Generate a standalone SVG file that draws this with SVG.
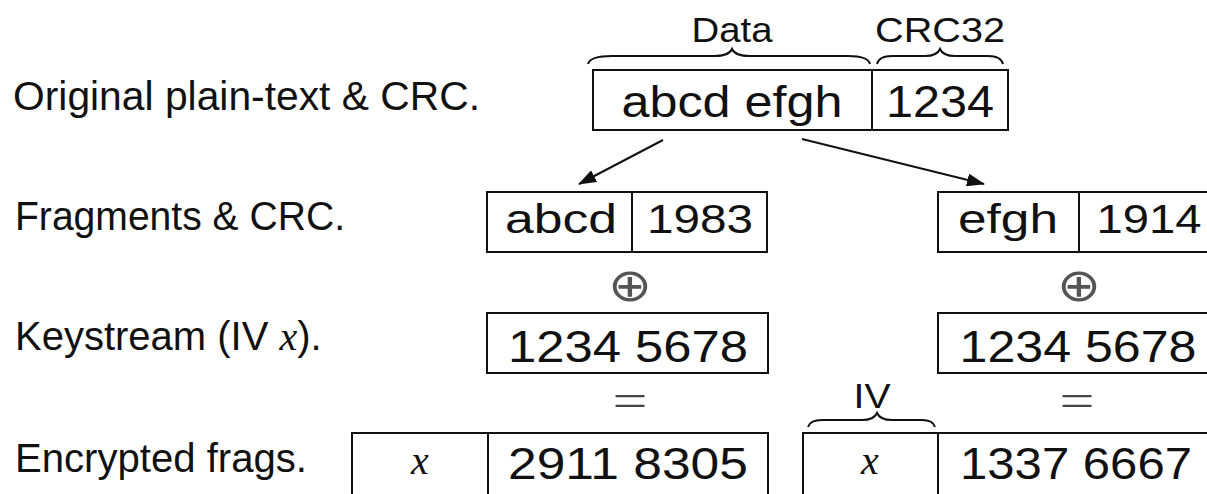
<svg xmlns="http://www.w3.org/2000/svg" width="1207" height="494" viewBox="0 0 1207 494">
<style>
.lbl{font-family:"Liberation Sans",Arial,sans-serif;font-size:40px;fill:#111}
.bt{font-family:"Liberation Sans",Arial,sans-serif;font-size:44px;fill:#111;text-anchor:middle}
.bt2{font-family:"Liberation Sans",Arial,sans-serif;font-size:40px;fill:#111;text-anchor:middle}
.hd{font-family:"Liberation Sans",Arial,sans-serif;font-size:35px;fill:#111;text-anchor:middle}
.mx{font-family:"Liberation Serif","Times New Roman",serif;font-style:italic;font-size:40px;fill:#111}
.op{font-family:"DejaVu Sans",sans-serif;font-size:46px;fill:#555;text-anchor:middle}
.eq{font-family:"Liberation Serif",serif;font-size:46px;fill:#444;text-anchor:middle}
.box{fill:#fff;stroke:#111;stroke-width:2}
.div{stroke:#111;stroke-width:2}
.br{fill:none;stroke:#111;stroke-width:2}
.arr{stroke:#111;stroke-width:2;fill:none}
</style>
<defs>
<marker id="ah" markerWidth="18" markerHeight="13" refX="17" refY="6.5" orient="auto" markerUnits="userSpaceOnUse" viewBox="0 0 18 13">
<path d="M0,0 L18,6.5 L0,13 z" fill="#111"/>
</marker>
</defs>
<rect width="1207" height="494" fill="#fff"/>

<g id="labels">
<text class="lbl" x="13" y="110" textLength="467" lengthAdjust="spacingAndGlyphs">Original plain-text &amp; CRC.</text>
<text class="lbl" x="15" y="230" textLength="330" lengthAdjust="spacingAndGlyphs">Fragments &amp; CRC.</text>
<text class="lbl" x="15" y="350">Keystream (IV <tspan class="mx">x</tspan>).</text>
<text class="lbl" x="15" y="472" textLength="292" lengthAdjust="spacingAndGlyphs">Encrypted frags.</text>
</g>

<g id="original">
<rect class="box" x="593" y="70" width="415" height="60"/>
<line class="div" x1="872" y1="70" x2="872" y2="130"/>
<text class="bt" x="732" y="117" textLength="221" lengthAdjust="spacingAndGlyphs">abcd efgh</text>
<text class="bt" x="940" y="117" textLength="108" lengthAdjust="spacingAndGlyphs">1234</text>
<path class="br" d="M588,64 Q590,56 612,56 L714,56 Q729,56 732,49 Q735,56 750,56 L848,56 Q868,56 870,64"/>
<text class="hd" x="732" y="42" textLength="81" lengthAdjust="spacingAndGlyphs">Data</text>
<path class="br" d="M877,64 Q879,56 892,56 L925,56 Q937,56 940,49 Q943,56 955,56 L988,56 Q1001,56 1003,64"/>
<text class="hd" x="940" y="42" textLength="130" lengthAdjust="spacingAndGlyphs">CRC32</text>
</g>

<g id="frag-left">
<rect class="box" x="487" y="192" width="280" height="60"/>
<line class="div" x1="632" y1="192" x2="632" y2="252"/>
<text class="bt2" x="561" y="233" textLength="112" lengthAdjust="spacingAndGlyphs">abcd</text>
<text class="bt2" x="700" y="233" textLength="106" lengthAdjust="spacingAndGlyphs">1983</text>
</g>

<g id="frag-right">
<rect class="box" x="938" y="192" width="290" height="60"/>
<line class="div" x1="1079" y1="192" x2="1079" y2="252"/>
<text class="bt2" x="1008" y="233" textLength="100" lengthAdjust="spacingAndGlyphs">efgh</text>
<text class="bt2" x="1149" y="233" textLength="105" lengthAdjust="spacingAndGlyphs">1914</text>
</g>

<g id="ops">
<text class="op" x="630" y="301" textLength="44" lengthAdjust="spacingAndGlyphs">⊕</text>
<text class="op" x="1079" y="301" textLength="44" lengthAdjust="spacingAndGlyphs">⊕</text>
<text class="eq" x="630" y="416" textLength="35" lengthAdjust="spacingAndGlyphs">=</text>
<text class="eq" x="1077" y="416" textLength="35" lengthAdjust="spacingAndGlyphs">=</text>
</g>

<g id="key-left">
<rect class="box" x="487" y="313" width="281" height="60"/>
<text class="bt" x="628" y="362" textLength="240" lengthAdjust="spacingAndGlyphs">1234 5678</text>
</g>

<g id="key-right">
<rect class="box" x="938" y="313" width="290" height="60"/>
<text class="bt" x="1078" y="362" textLength="237" lengthAdjust="spacingAndGlyphs">1234 5678</text>
</g>

<g id="enc-left">
<rect class="box" x="352" y="433" width="416" height="80"/>
<line class="div" x1="488" y1="433" x2="488" y2="513"/>
<text class="mx" x="420" y="474" text-anchor="middle">x</text>
<text class="bt" x="628" y="479" textLength="240" lengthAdjust="spacingAndGlyphs">2911 8305</text>
</g>

<g id="enc-right">
<rect class="box" x="803" y="433" width="425" height="80"/>
<line class="div" x1="938" y1="433" x2="938" y2="513"/>
<text class="mx" x="870" y="474" text-anchor="middle">x</text>
<text class="bt" x="1076" y="479" textLength="232" lengthAdjust="spacingAndGlyphs">1337 6667</text>
<path class="br" d="M808,427 Q810,420 822,420 L862,420 Q874,420 877,413 Q880,420 892,420 L922,420 Q933,420 935,427"/>
<text class="hd" x="872" y="408" textLength="37" lengthAdjust="spacingAndGlyphs">IV</text>
</g>

<g id="connectors">
<line class="arr" x1="663" y1="140" x2="579" y2="184" marker-end="url(#ah)"/>
<line class="arr" x1="802" y1="139" x2="984" y2="184" marker-end="url(#ah)"/>
</g>
</svg>
